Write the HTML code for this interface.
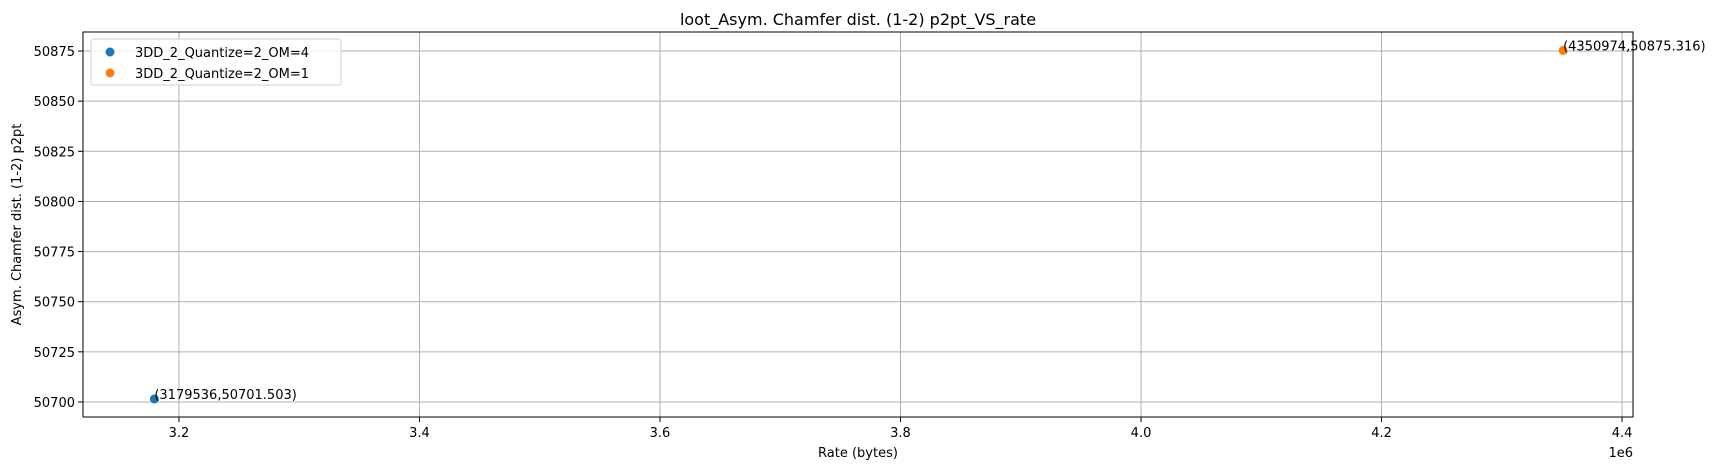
<!DOCTYPE html>
<html><head><meta charset="utf-8"><style>
body{margin:0;background:#fff;}
svg{display:block;font-family:"DejaVu Sans","Liberation Sans",sans-serif;}
</style></head><body>
<svg id="chart" width="1724" height="470" viewBox="0 0 1724 470" xmlns="http://www.w3.org/2000/svg"></svg>
<script>
const xTicks=[3.2,3.4,3.6,3.8,4.0,4.2,4.4];
const xTickLabels=["3.2","3.4","3.6","3.8","4.0","4.2","4.4"];
const yTicks=[50700,50725,50750,50775,50800,50825,50850,50875];
const seriesNames=["3DD_2_Quantize=2_OM=4","3DD_2_Quantize=2_OM=1"];
const seriesX=[3179536,4350974];
const seriesY=[50701.503,50875.316];
const seriesColors=["#1f77b4","#ff7f0e"];
const L=83,R=1633,T=32,B=417;
const xMin=3.1202e6,xMax=4.4091e6,yMin=50692.5,yMax=50884.5;
const sx=v=>L+(v-xMin)/(xMax-xMin)*(R-L);
const sy=v=>B-(v-yMin)/(yMax-yMin)*(B-T);
const svg=document.getElementById('chart');
const NS="http://www.w3.org/2000/svg";
function mk(tag,attrs,txt){const e=document.createElementNS(NS,tag);for(const k in attrs)e.setAttribute(k,attrs[k]);if(txt!==undefined)e.textContent=txt;svg.appendChild(e);return e;}
xTicks.forEach((t,i)=>{const x=sx(t*1e6);
 let g=mk('line',{x1:x,x2:x,y1:T,y2:B,stroke:'#b0b0b0','stroke-width':1});
 
 mk('line',{x1:x,x2:x,y1:B,y2:B+5,stroke:'#000'});
 let l=mk('text',{x:x,y:437,'font-size':13,'text-anchor':'middle',fill:'#000'},xTickLabels[i]);
 });
yTicks.forEach(t=>{const y=sy(t);
 let g=mk('line',{x1:L,x2:R,y1:y,y2:y,stroke:'#b0b0b0','stroke-width':1});
 
 mk('line',{x1:L-5,x2:L,y1:y,y2:y,stroke:'#000'});
 let l=mk('text',{x:L-8,y:y+5,'font-size':13,'text-anchor':'end',fill:'#000'},String(t));
 });
let fr=mk('rect',{x:L,y:T,width:R-L,height:B-T,fill:'none',stroke:'#000','stroke-width':1});

seriesX.forEach((v,i)=>{const x=sx(v),y=sy(seriesY[i]);
 let c=mk('circle',{cx:x,cy:y,r:4.5,fill:seriesColors[i]});
 
 let a=mk('text',{x:x,y:y,'font-size':13,fill:'#000'},'('+v+','+seriesY[i]+')');
 });
let lg=mk('rect',{x:91,y:39,width:250,height:46,rx:3,fill:'#fff','fill-opacity':0.8,stroke:'#d0d0d0'});

seriesNames.forEach((n,i)=>{const y=52+i*21;
 let m=mk('circle',{cx:110,cy:y,r:4.5,fill:seriesColors[i]});
 
 let t=mk('text',{x:135,y:y+5,'font-size':13,fill:'#000'},n);
 });
let tt=mk('text',{x:858,y:25,'font-size':16,'text-anchor':'middle',fill:'#000'},'loot_Asym. Chamfer dist. (1-2) p2pt_VS_rate');

let xl=mk('text',{x:858,y:457,'font-size':13,'text-anchor':'middle',fill:'#000'},'Rate (bytes)');

let yl=mk('text',{x:0,y:0,'font-size':13,'text-anchor':'middle',fill:'#000',transform:'translate(21,'+((T+B)/2)+') rotate(-90)'},'Asym. Chamfer dist. (1-2) p2pt');

let ex=mk('text',{x:R,y:457,'font-size':13,'text-anchor':'end',fill:'#000'},'1e6');

</script>
</body></html>
